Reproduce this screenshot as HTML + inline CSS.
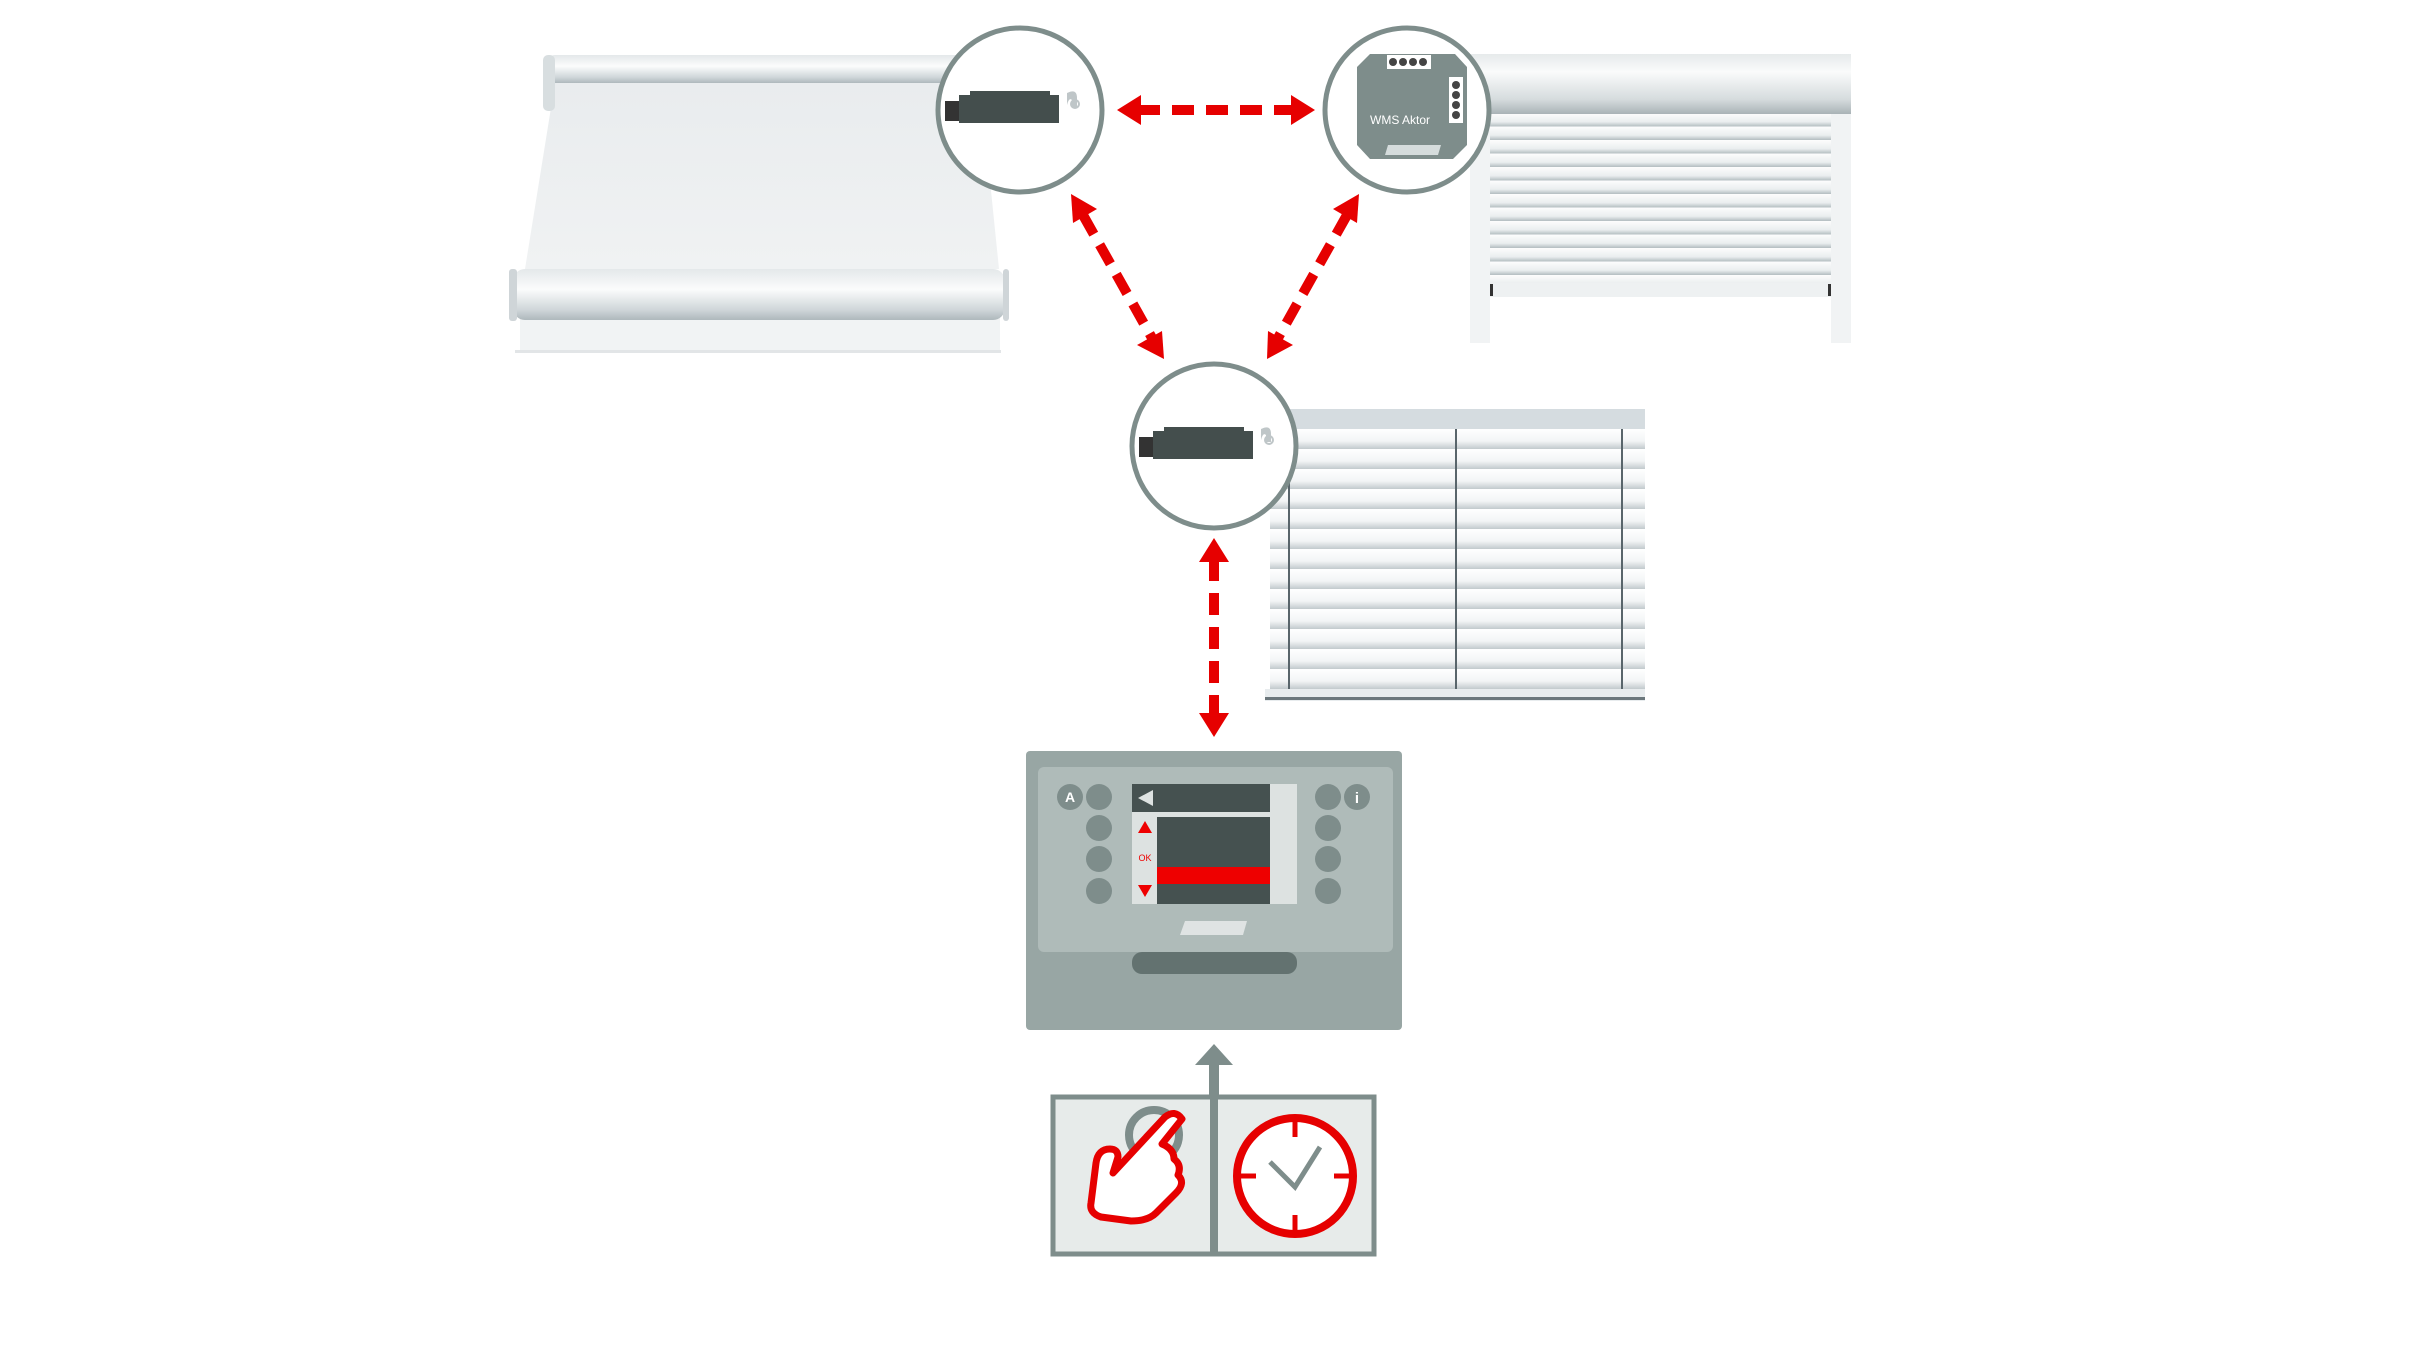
<!DOCTYPE html>
<html><head><meta charset="utf-8"><style>html,body{margin:0;padding:0;background:#fff}svg{display:block}</style></head>
<body>
<svg width="2426" height="1351" viewBox="0 0 2426 1351" xmlns="http://www.w3.org/2000/svg" font-family="Liberation Sans, sans-serif">
<defs>
<linearGradient id="roll" x1="0" y1="0" x2="0" y2="1"><stop offset="0" stop-color="#e4e8ea"/><stop offset="0.4" stop-color="#fbfcfc"/><stop offset="0.8" stop-color="#cfd6d9"/><stop offset="1" stop-color="#aeb8bc"/></linearGradient>
<linearGradient id="box" x1="0" y1="0" x2="0" y2="1"><stop offset="0" stop-color="#e6eaeb"/><stop offset="0.3" stop-color="#fafbfb"/><stop offset="0.75" stop-color="#d6dcde"/><stop offset="1" stop-color="#a9b3b6"/></linearGradient>
<linearGradient id="fab" x1="0" y1="0" x2="0" y2="1"><stop offset="0" stop-color="#e9ecee"/><stop offset="1" stop-color="#f0f2f3"/></linearGradient>
<linearGradient id="slat" x1="0" y1="0" x2="0" y2="1"><stop offset="0" stop-color="#fdfdfd"/><stop offset="0.65" stop-color="#eaeeef"/><stop offset="1" stop-color="#b3bdc0"/></linearGradient>
<pattern id="slats" x="0" y="116" width="10" height="13.5" patternUnits="userSpaceOnUse"><rect width="10" height="13.5" fill="url(#slat)"/></pattern>
<linearGradient id="vb" x1="0" y1="0" x2="0" y2="1"><stop offset="0" stop-color="#fff"/><stop offset="0.6" stop-color="#f3f5f6"/><stop offset="1" stop-color="#c2cacd"/></linearGradient>
<pattern id="vslats" x="0" y="432" width="10" height="20" patternUnits="userSpaceOnUse"><rect width="10" height="20" fill="url(#vb)"/></pattern>
</defs>
<g transform="translate(-5,-3)">
<!-- Awning -->
<polygon points="560,86 985,86 1004,272 530,272" fill="url(#fab)"/>
<rect x="525" y="300" width="480" height="55" fill="#f1f3f4"/>
<rect x="520" y="353" width="486" height="3" fill="#e2e5e7"/>
<rect x="552" y="58" width="440" height="28" rx="8" fill="url(#roll)"/>
<rect x="548" y="58" width="12" height="56" rx="5" fill="#d8dee0"/>
<rect x="518" y="272" width="492" height="51" rx="12" fill="url(#roll)"/>
<rect x="514" y="272" width="8" height="52" rx="3" fill="#cfd5d8"/>
<rect x="1008" y="272" width="6" height="52" rx="3" fill="#cfd5d8"/>

<!-- Roller shutter -->
<rect x="1475" y="116" width="20" height="230" fill="#f1f3f4"/>
<rect x="1836" y="116" width="20" height="230" fill="#f1f3f4"/>
<rect x="1495" y="116" width="341" height="170" fill="url(#slats)"/>
<rect x="1495" y="286" width="341" height="14" fill="#eef1f2"/>
<rect x="1495" y="287" width="3" height="12" fill="#333"/>
<rect x="1833" y="287" width="3" height="12" fill="#333"/>
<rect x="1475" y="57" width="381" height="60" fill="url(#box)"/>

<!-- Venetian -->
<rect x="1275" y="432" width="375" height="260" fill="url(#vslats)"/>
<rect x="1270" y="412" width="380" height="20" fill="#d5dce0"/>
<line x1="1294" y1="432" x2="1294" y2="692" stroke="#59656b" stroke-width="2"/>
<line x1="1461" y1="432" x2="1461" y2="692" stroke="#59656b" stroke-width="2"/>
<line x1="1627" y1="432" x2="1627" y2="692" stroke="#59656b" stroke-width="2"/>
<rect x="1270" y="692" width="380" height="12" fill="#e8ecee"/>
<rect x="1270" y="700" width="380" height="3" fill="#6c777c"/>

<!-- circles -->
<g stroke="#7e8d8b" stroke-width="5" fill="#fff">
<circle cx="1025" cy="113" r="82"/>
<circle cx="1412" cy="113" r="82"/>
<circle cx="1219" cy="449" r="82"/>
</g>
<g>
<rect x="950" y="104" width="16" height="20" fill="#333"/>
<rect x="964" y="98" width="100" height="28" fill="#444e4d"/>
<rect x="975" y="94" width="80" height="32" fill="#444e4d"/>
<path d="M1072,96 q10,-5 10,5 v10 h-5 v-8 q-3,-3 -5,5 z" fill="#bfc6c8"/>
<circle cx="1080" cy="107" r="4" fill="none" stroke="#bfc6c8" stroke-width="2"/>
</g>
<g>
<rect x="1144" y="440" width="16" height="20" fill="#333"/>
<rect x="1158" y="434" width="100" height="28" fill="#444e4d"/>
<rect x="1169" y="430" width="80" height="32" fill="#444e4d"/>
<circle cx="1274" cy="443" r="4" fill="none" stroke="#bfc6c8" stroke-width="2"/>
<path d="M1266,432 q10,-5 10,5 v8 h-5 v-7 q-3,-3 -5,5 z" fill="#bfc6c8"/>
</g>
<!-- WMS Aktor -->
<polygon points="1375,57 1460,57 1472,70 1472,148 1458,162 1375,162 1362,148 1362,70" fill="#7e8d8b"/>
<rect x="1392" y="58" width="44" height="14" fill="#fff"/>
<g fill="#444"><circle cx="1398" cy="65" r="4"/><circle cx="1408" cy="65" r="4"/><circle cx="1418" cy="65" r="4"/><circle cx="1428" cy="65" r="4"/></g>
<rect x="1454" y="80" width="14" height="46" fill="#fff"/>
<g fill="#444"><circle cx="1461" cy="88" r="4"/><circle cx="1461" cy="98" r="4"/><circle cx="1461" cy="108" r="4"/><circle cx="1461" cy="118" r="4"/></g>
<text x="1375" y="127" font-size="12" fill="#fff">WMS Aktor</text>
<polygon points="1393,148 1446,148 1443,158 1390,158" fill="#d5dcdc"/>

<!-- red dashed arrows -->
<g stroke="#e60000" stroke-width="10" stroke-dasharray="22 12" fill="none">
<line x1="1143" y1="113" x2="1299" y2="113"/>
<line x1="1088" y1="218" x2="1157" y2="341"/>
<line x1="1352" y1="218" x2="1283" y2="341"/>
<line x1="1219" y1="562" x2="1219" y2="720"/>
</g>
<g fill="#e60000">
<polygon points="1122,113 1146,98 1146,128"/>
<polygon points="1320,113 1296,98 1296,128"/>
<polygon points="1076,197 1078,226 1102,212"/>
<polygon points="1169,362 1142,348 1167,334"/>
<polygon points="1364,197 1362,226 1338,212"/>
<polygon points="1272,362 1273,334 1298,348"/>
<polygon points="1219,541 1204,565 1234,565"/>
<polygon points="1219,740 1204,716 1234,716"/>
</g>

<!-- controller -->
<rect x="1031" y="754" width="376" height="279" rx="4" fill="#98a6a4"/>
<rect x="1043" y="770" width="355" height="185" rx="6" fill="#afbbb9"/>
<rect x="1137" y="955" width="165" height="22" rx="10" fill="#637270"/>
<rect x="1137" y="787" width="165" height="120" fill="#dde2e1"/>
<rect x="1137" y="787" width="138" height="28" fill="#455150"/>
<polygon points="1143,801 1158,793 1158,809" fill="#dde2e1"/>
<rect x="1162" y="820" width="113" height="87" fill="#455150"/>
<rect x="1162" y="870" width="113" height="17" fill="#ee0000"/>
<polygon points="1150,824 1143,836 1157,836" fill="#e00"/>
<text x="1150" y="864" font-size="9" fill="#e00" text-anchor="middle">OK</text>
<polygon points="1143,888 1157,888 1150,900" fill="#e00"/>
<polygon points="1190,924 1252,924 1248,938 1185,938" fill="#dfe3e3"/>
<g fill="#7e8d8b">
<circle cx="1075" cy="800" r="13"/><circle cx="1104" cy="800" r="13"/><circle cx="1104" cy="831" r="13"/><circle cx="1104" cy="862" r="13"/><circle cx="1104" cy="894" r="13"/>
<circle cx="1333" cy="800" r="13"/><circle cx="1362" cy="800" r="13"/><circle cx="1333" cy="831" r="13"/><circle cx="1333" cy="862" r="13"/><circle cx="1333" cy="894" r="13"/>
</g>
<text x="1075" y="805" font-size="14" font-weight="bold" fill="#fff" text-anchor="middle">A</text>
<text x="1362" y="806" font-size="15" font-weight="bold" fill="#fff" text-anchor="middle">i</text>

<rect x="1214" y="1068" width="10" height="34" fill="#7e8d8b"/>
<polygon points="1219,1047 1200,1068 1238,1068" fill="#7e8d8b"/>

<rect x="1058" y="1100" width="321" height="157" fill="#e7ebea" stroke="#7e8d8b" stroke-width="5"/>
<line x1="1219" y1="1100" x2="1219" y2="1257" stroke="#7e8d8b" stroke-width="8"/>
<circle cx="1159" cy="1138" r="25" fill="none" stroke="#7e8d8b" stroke-width="8"/>
<path d="M1170,1120 q10,-8 17,2 l-20,25 q12,5 12,15 q8,6 4,16 q8,8 -2,18 l-20,20 q-8,8 -25,8 l-30,-4 q-12,-4 -10,-14 l5,-40 q2,-14 14,-14 q8,0 8,8 l-5,16 z" fill="#fff" stroke="#e60000" stroke-width="7" stroke-linejoin="round"/>
<circle cx="1300" cy="1179" r="58" fill="#fff" stroke="#e60000" stroke-width="8"/>
<g stroke="#e60000" stroke-width="5"><line x1="1300" y1="1125" x2="1300" y2="1140"/><line x1="1300" y1="1218" x2="1300" y2="1233"/><line x1="1246" y1="1179" x2="1261" y2="1179"/><line x1="1339" y1="1179" x2="1354" y2="1179"/></g>
<polyline points="1275,1165 1300,1190 1325,1150" fill="none" stroke="#7e8d8b" stroke-width="5"/>
</g>
</svg>
</body></html>
